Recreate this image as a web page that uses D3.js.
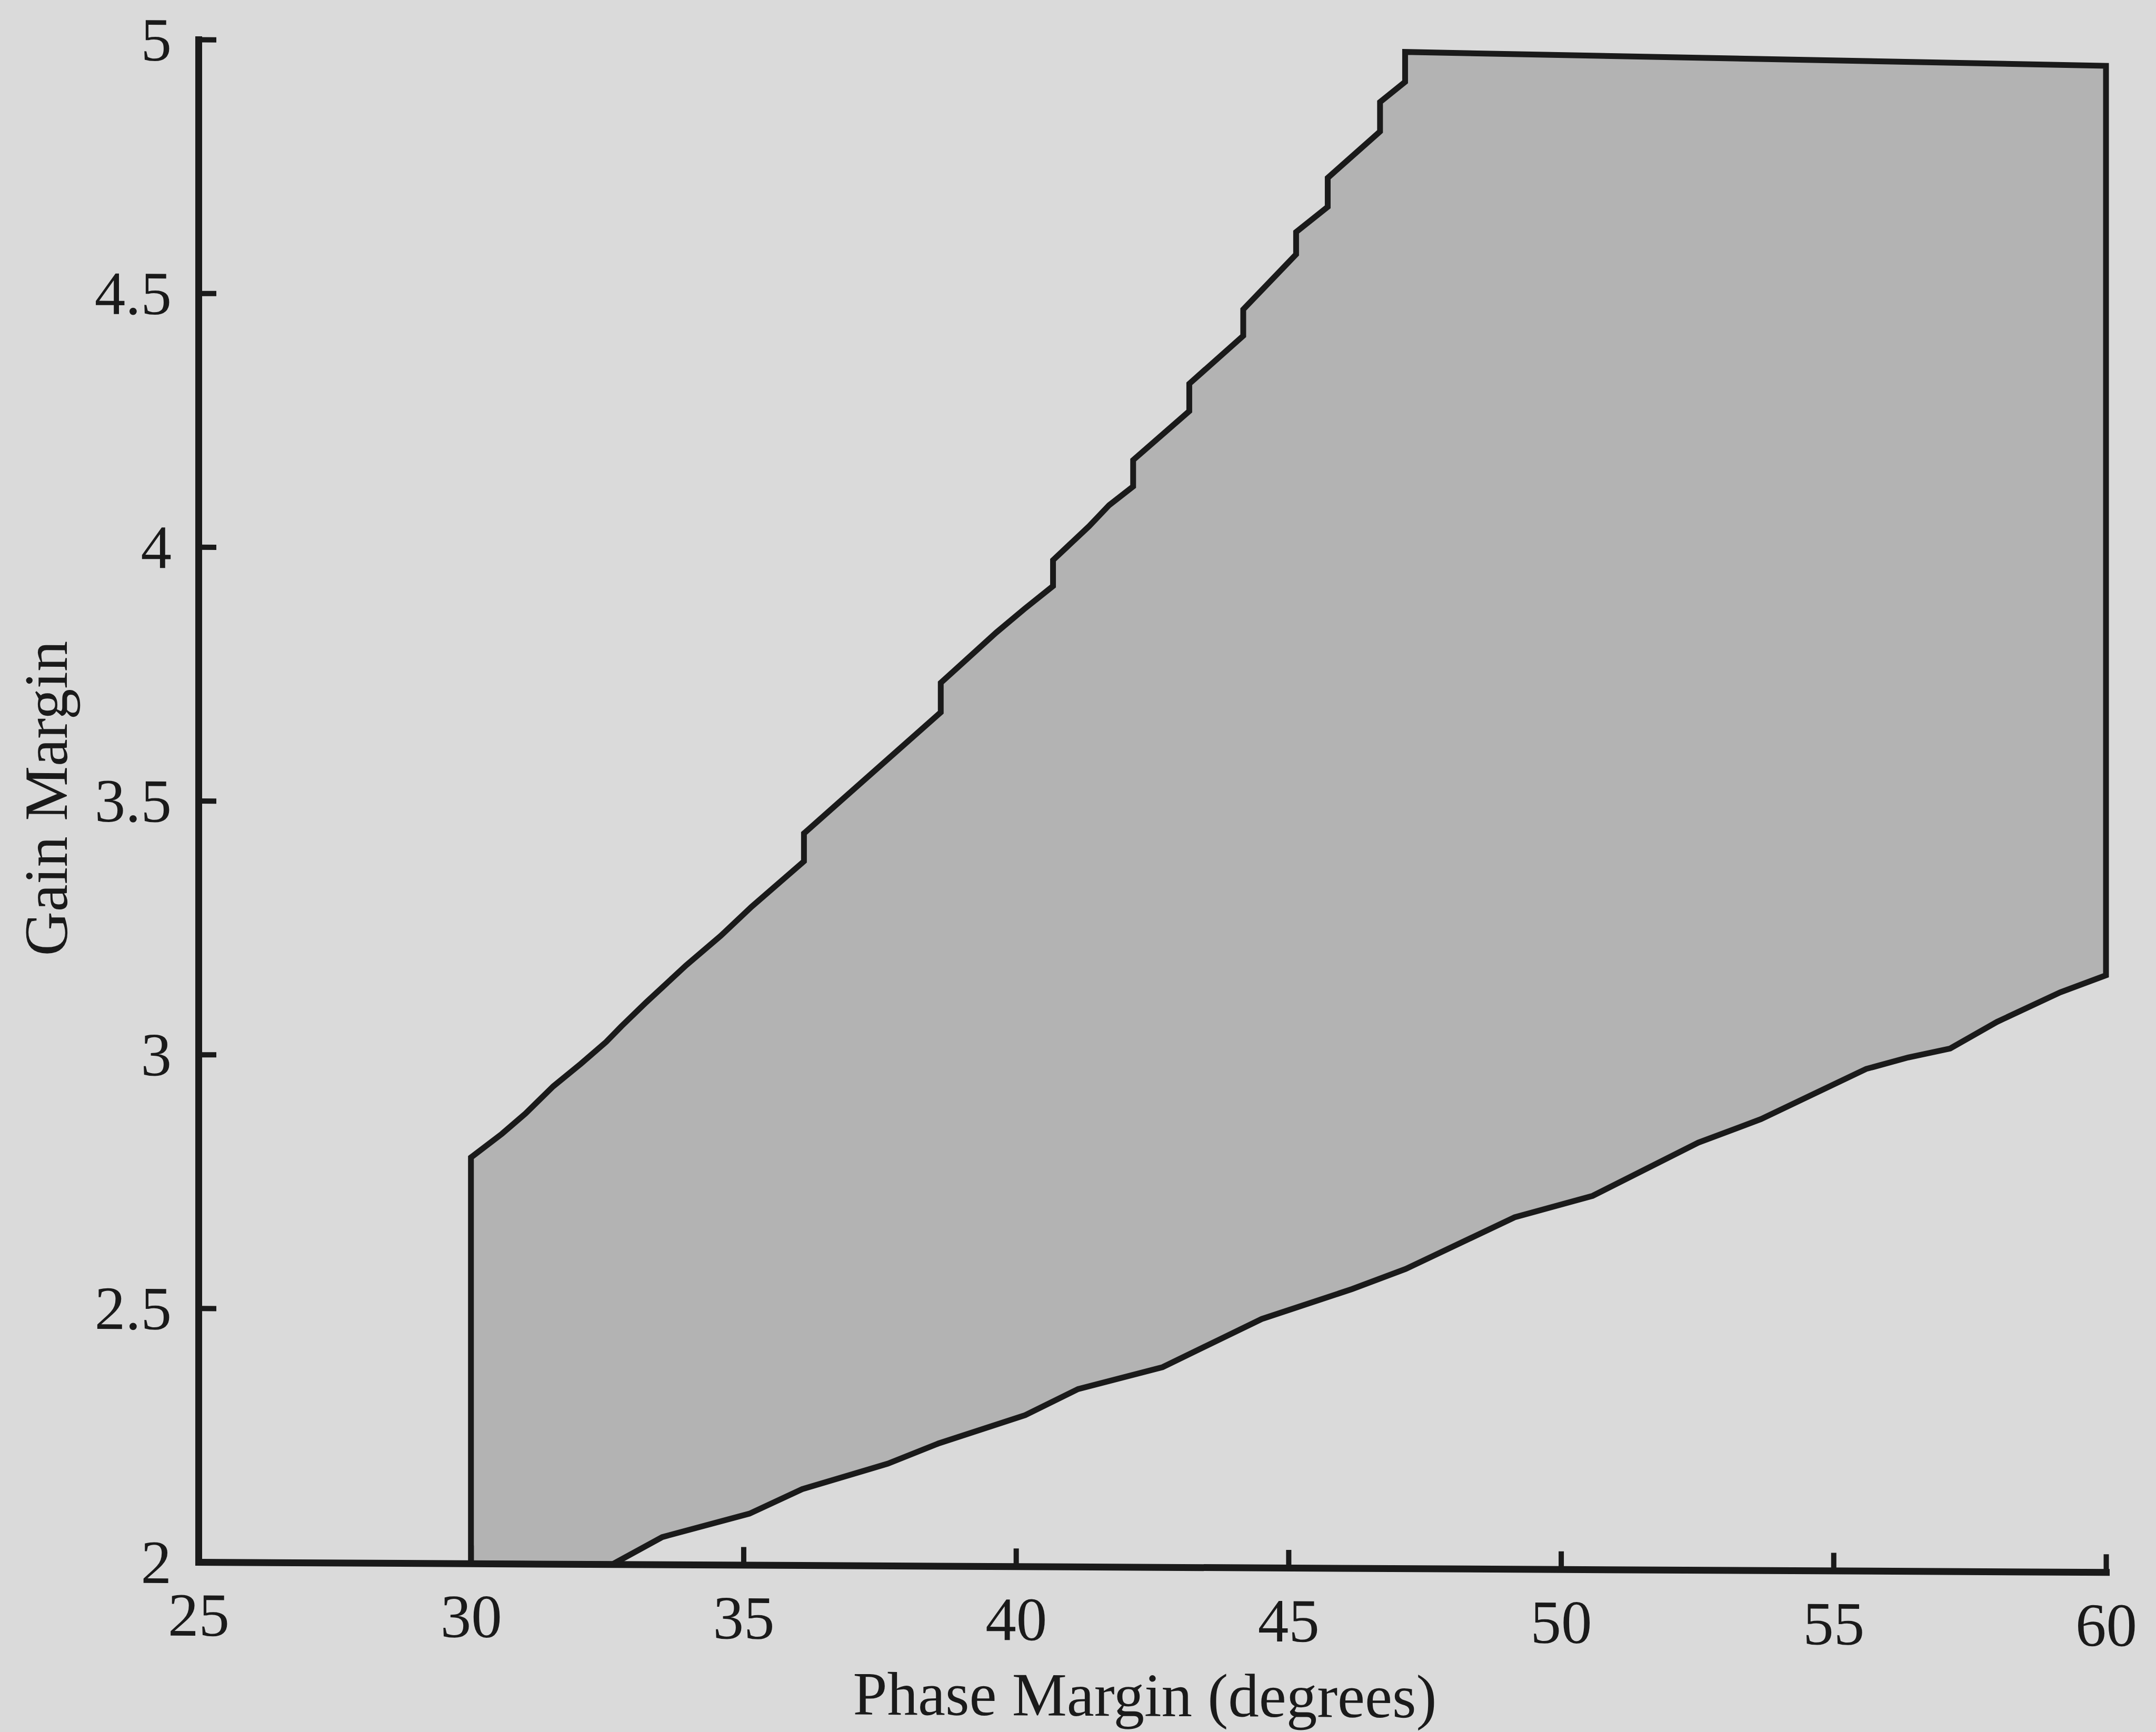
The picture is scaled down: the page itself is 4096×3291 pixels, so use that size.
<!DOCTYPE html>
<html>
<head>
<meta charset="utf-8">
<script src="https://cdn.jsdelivr.net/npm/d3@7"></script>
<style>
  html, body { margin: 0; padding: 0; background: #dadada; }
  svg { display: block; }
</style>
</head>
<body>
<script>
// Axis ticks
const phaseTicks = [25, 30, 35, 40, 45, 50, 55, 60];
const gainTicks = [2, 2.5, 3, 3.5, 4, 4.5, 5];

// Upper boundary of the acceptable region (phase margin, gain margin), left to right
const upperPhase = [30, 30.57, 31.00, 31.51, 32.02, 32.48, 32.76, 33.21, 33.95, 34.58, 35.15,
  36.11, 36.11, 38.62, 38.62, 39.64, 40.16, 40.68, 40.68, 41.34, 41.71, 42.15, 42.15,
  43.18, 43.18, 44.17, 44.17, 45.14, 45.14, 45.72, 45.72, 46.68, 46.68, 47.14, 47.14, 60];
const upperGain = [2.80, 2.847, 2.887, 2.941, 2.986, 3.029, 3.060, 3.107, 3.181, 3.239, 3.297,
  3.387, 3.442, 3.682, 3.740, 3.840, 3.887, 3.932, 3.983, 4.050, 4.092, 4.129, 4.181,
  4.278, 4.332, 4.427, 4.479, 4.588, 4.632, 4.682, 4.739, 4.831, 4.889, 4.929, 4.988, 4.968];

// Lower boundary of the acceptable region, left to right
const lowerPhase = [32.6, 33.51, 35.11, 36.08, 37.65, 38.57, 40.17, 41.14, 42.69, 44.51, 46.17,
  47.15, 49.15, 50.58, 52.52, 53.67, 55.60, 56.37, 57.14, 58.00, 59.16, 60];
const lowerGain = [2.0, 2.054, 2.101, 2.150, 2.201, 2.241, 2.298, 2.350, 2.394, 2.490, 2.550,
  2.590, 2.693, 2.736, 2.842, 2.889, 2.989, 3.012, 3.030, 3.083, 3.142, 3.176];

const W = 4096, H = 3291;
const FONT = "'Liberation Serif', 'Times New Roman', Times, serif";
const INK = "#1a1a1a";

const svg = d3.select("body").append("svg")
  .attr("width", W).attr("height", H)
  .style("background", "#dadada");

const x = d3.scaleLinear().domain([25, 60]).range([377, 4001]);
const y = d3.scaleLinear().domain([2, 5]).range([2968, 75]);

// whole figure carries a slight downward shear toward the right
const shear = 0.0053;
const root = svg.append("g")
  .attr("transform", `matrix(1, ${shear}, 0, 1, 0, ${-shear * x(25)})`);

// Region outline: base along the axis, up the upper boundary, down the right side,
// back along the lower boundary
const region = [[30, 2]]
  .concat(upperPhase.map((p, i) => [p, upperGain[i]]))
  .concat(lowerPhase.map((p, i) => [p, lowerGain[i]]).reverse());

const line = d3.line().x(d => x(d[0])).y(d => y(d[1]));

root.append("path")
  .attr("d", line(region) + "Z")
  .attr("fill", "#b3b3b3")
  .attr("stroke", INK)
  .attr("stroke-width", 11)
  .attr("stroke-linejoin", "miter")
  .attr("stroke-miterlimit", 4);

// Axes with inward ticks
const gx = root.append("g")
  .attr("transform", `translate(0,${y(2)})`)
  .call(d3.axisBottom(x).tickValues(phaseTicks).tickSize(-34).tickSizeOuter(0)
    .tickFormat(d3.format("")));

const gy = root.append("g")
  .attr("transform", `translate(${x(25)},0)`)
  .call(d3.axisLeft(y).tickValues(gainTicks).tickSize(-34).tickSizeOuter(0)
    .tickFormat(d3.format("")));

[gx, gy].forEach(g => {
  g.attr("font-family", FONT).attr("font-size", 117);
  g.select(".domain").attr("stroke", INK).attr("stroke-width", 13).attr("stroke-linecap", "square");
  g.selectAll(".tick line").attr("stroke", INK).attr("stroke-width", 10);
  g.selectAll(".tick text").attr("fill", INK);
});

gx.selectAll(".tick text").attr("y", 140).attr("dy", 0);
gy.selectAll(".tick text").attr("x", -51).attr("dy", "0.34em").attr("text-anchor", "end");

// Axis titles
root.append("text")
  .attr("x", 2175).attr("y", 3251)
  .attr("text-anchor", "middle")
  .attr("font-family", FONT).attr("font-size", 117).attr("fill", INK)
  .text("Phase Margin (degrees)");

root.append("text")
  .attr("transform", `translate(127,${(y(2) + y(5)) / 2 - 3}) rotate(-90)`)
  .attr("text-anchor", "middle")
  .attr("font-family", FONT).attr("font-size", 117).attr("fill", INK)
  .text("Gain Margin");
</script>
</body>
</html>
